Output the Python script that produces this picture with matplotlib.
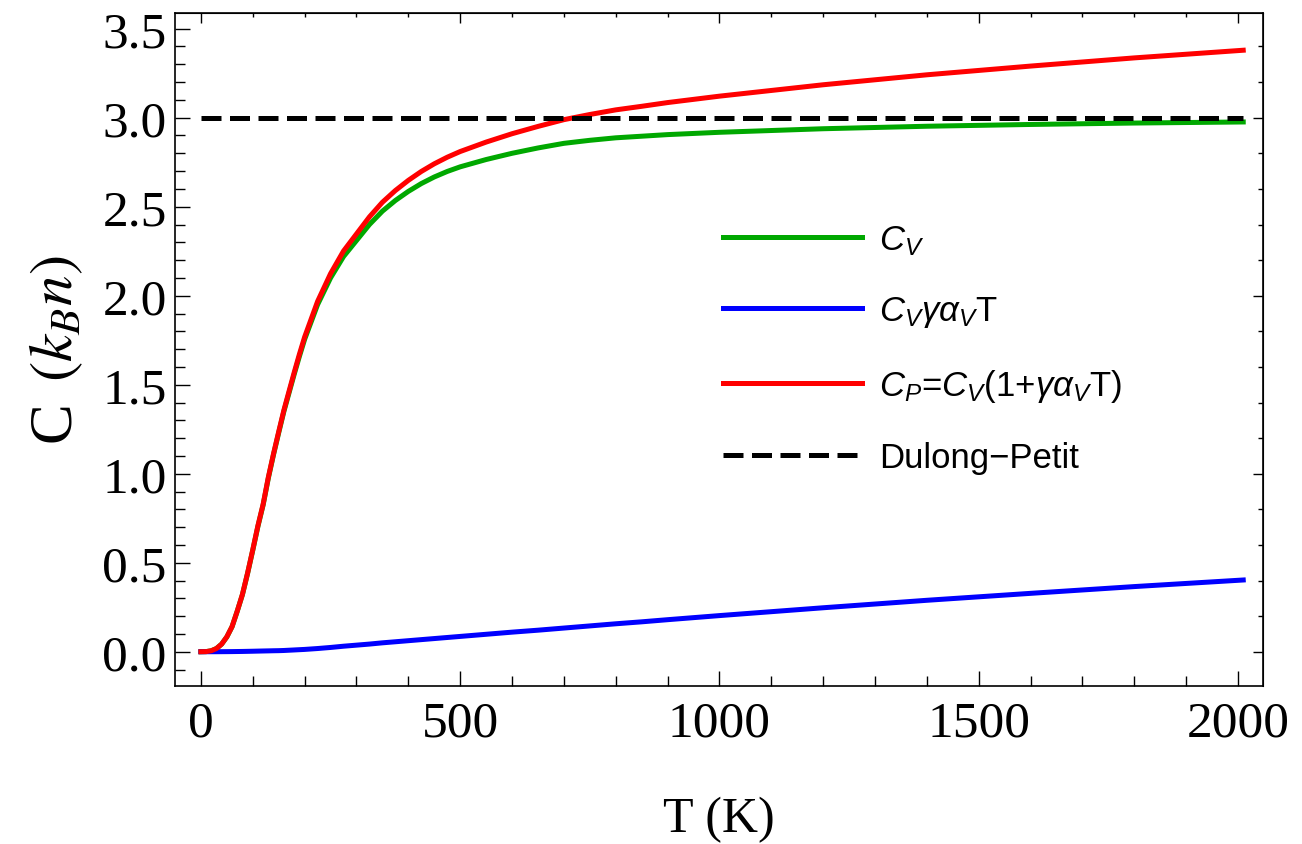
import matplotlib
matplotlib.use('Agg')
import matplotlib.pyplot as plt
from matplotlib.ticker import MultipleLocator

# temperature grid (K)
temperature = [0, 10, 20, 30, 40, 50, 60, 70, 80, 90, 100, 110, 120, 130, 140, 150, 160, 170,
               180, 190, 200, 225, 250, 275, 300, 325, 350, 375, 400, 425, 450, 475, 500, 550,
               600, 650, 700, 750, 800, 850, 900, 1000, 1200, 1400, 1600, 1800, 2010]

# heat capacities in units of k_B n
c_v = [0, 0.0007, 0.0055, 0.018, 0.043, 0.083, 0.14, 0.227, 0.32, 0.44, 0.57, 0.705, 0.825,
       0.975, 1.107, 1.23, 1.35, 1.455, 1.56, 1.66, 1.755, 1.95, 2.10, 2.22, 2.31, 2.40, 2.475,
       2.535, 2.586, 2.63, 2.667, 2.698, 2.724, 2.765, 2.80, 2.83, 2.856, 2.873, 2.887, 2.896,
       2.905, 2.918, 2.938, 2.952, 2.962, 2.970, 2.976]
c_v_gamma_alpha_t = [0, 0, 0, 0.0001, 0.0003, 0.0005, 0.0008, 0.0012, 0.0016, 0.0022, 0.0028,
                     0.0035, 0.0042, 0.0048, 0.0055, 0.006, 0.007, 0.0085, 0.010, 0.0115, 0.013,
                     0.018, 0.024, 0.031, 0.037, 0.043, 0.050, 0.056, 0.062, 0.068, 0.074, 0.080,
                     0.086, 0.098, 0.110, 0.121, 0.133, 0.145, 0.157, 0.168, 0.180, 0.203, 0.247,
                     0.289, 0.328, 0.366, 0.403]
c_p = [0, 0.0007, 0.0055, 0.018, 0.043, 0.084, 0.141, 0.228, 0.322, 0.442, 0.573, 0.709, 0.829,
       0.980, 1.112, 1.236, 1.357, 1.464, 1.570, 1.672, 1.768, 1.968, 2.124, 2.251, 2.347, 2.443,
       2.525, 2.591, 2.648, 2.698, 2.741, 2.778, 2.810, 2.863, 2.910, 2.951, 2.989, 3.018, 3.044,
       3.064, 3.085, 3.121, 3.185, 3.241, 3.290, 3.336, 3.379]
dulong_petit = 3.0

labels = [r'$C_V$', r'$C_V\gamma\alpha_V$T', r'$C_P$=$C_V$(1+$\gamma\alpha_V$T)', 'Dulong\u2212Petit']
colors = ['#00a800', '#0000ff', '#ff0000', 'black']

# figure parameters
FIG_SIZE = (13.02, 8.45)
TICK_SIZE = 37
LABEL_SIZE = 36
YLABEL_SIZE = 44
LEGEND_SIZE = 25
LINE_WIDTH = 3.6

plt.rcParams['mathtext.fontset'] = 'custom'
plt.rcParams['mathtext.rm'] = 'Liberation Sans'
plt.rcParams['mathtext.it'] = 'Liberation Sans:italic'

fig = plt.figure(figsize=FIG_SIZE, dpi=100)
ax = fig.add_axes([0.1344, 0.1873, 0.8356, 0.7961])

# curves
ax.plot(temperature, c_v, color=colors[0], lw=LINE_WIDTH, label=labels[0], solid_joinstyle='round')
ax.plot(temperature, c_v_gamma_alpha_t, color=colors[1], lw=LINE_WIDTH, label=labels[1],
        solid_joinstyle='round')
ax.plot(temperature, c_p, color=colors[2], lw=LINE_WIDTH, label=labels[2], solid_joinstyle='round')
ax.plot([temperature[0], temperature[-1]], [dulong_petit, dulong_petit], color=colors[3],
        lw=LINE_WIDTH, dashes=(4, 1.7), label=labels[3])

ax.set_xlim(-50, 2048)
ax.set_ylim(-0.191, 3.588)

# bottom / left ticks with labels
ax.xaxis.set_major_locator(MultipleLocator(500))
ax.xaxis.set_minor_locator(MultipleLocator(100))
ax.yaxis.set_major_locator(MultipleLocator(0.5))
ax.yaxis.set_minor_locator(MultipleLocator(0.1))
ax.yaxis.set_major_formatter(lambda v, pos: '%.1f' % v)
ax.tick_params(which='both', direction='in', width=1, top=False, right=False)
ax.tick_params(which='major', length=10.8, labelsize=TICK_SIZE)
ax.tick_params(which='minor', length=7.2)
ax.tick_params(axis='y', pad=6)
ax.tick_params(axis='x', pad=10)
for lbl in ax.get_xticklabels() + ax.get_yticklabels():
    lbl.set_fontfamily('Liberation Serif')
for sp in ax.spines.values():
    sp.set_linewidth(1.2)

# top / right ticks without labels
top = ax.secondary_xaxis('top')
top.xaxis.set_major_locator(MultipleLocator(500))
top.xaxis.set_minor_locator(MultipleLocator(100))
top.tick_params(which='both', direction='in', width=1, labeltop=False)
top.tick_params(which='major', length=7.2)
top.tick_params(which='minor', length=3)
right = ax.secondary_yaxis('right')
right.yaxis.set_major_locator(MultipleLocator(1.0))
right.yaxis.set_minor_locator(MultipleLocator(0.2))
right.tick_params(which='both', direction='in', width=1, labelright=False)
right.tick_params(which='major', length=7.2)
right.tick_params(which='minor', length=3.6)

ax.set_xlabel('T (K)', fontsize=LABEL_SIZE, fontfamily='Liberation Serif', labelpad=36)
ax.set_ylabel(r'C $\,(k_B n)$', fontsize=YLABEL_SIZE, fontfamily='Liberation Serif',
              math_fontfamily='stix', labelpad=12)

ax.legend(loc='upper left', bbox_to_anchor=(723 / 1302, 1 - 224 / 845), bbox_transform=fig.transFigure,
          frameon=False, borderpad=0, borderaxespad=0, handlelength=4.0, handletextpad=0.5,
          labelspacing=1.08, prop={'family': 'Liberation Sans', 'size': LEGEND_SIZE})

fig.savefig('out.png', dpi=100)
